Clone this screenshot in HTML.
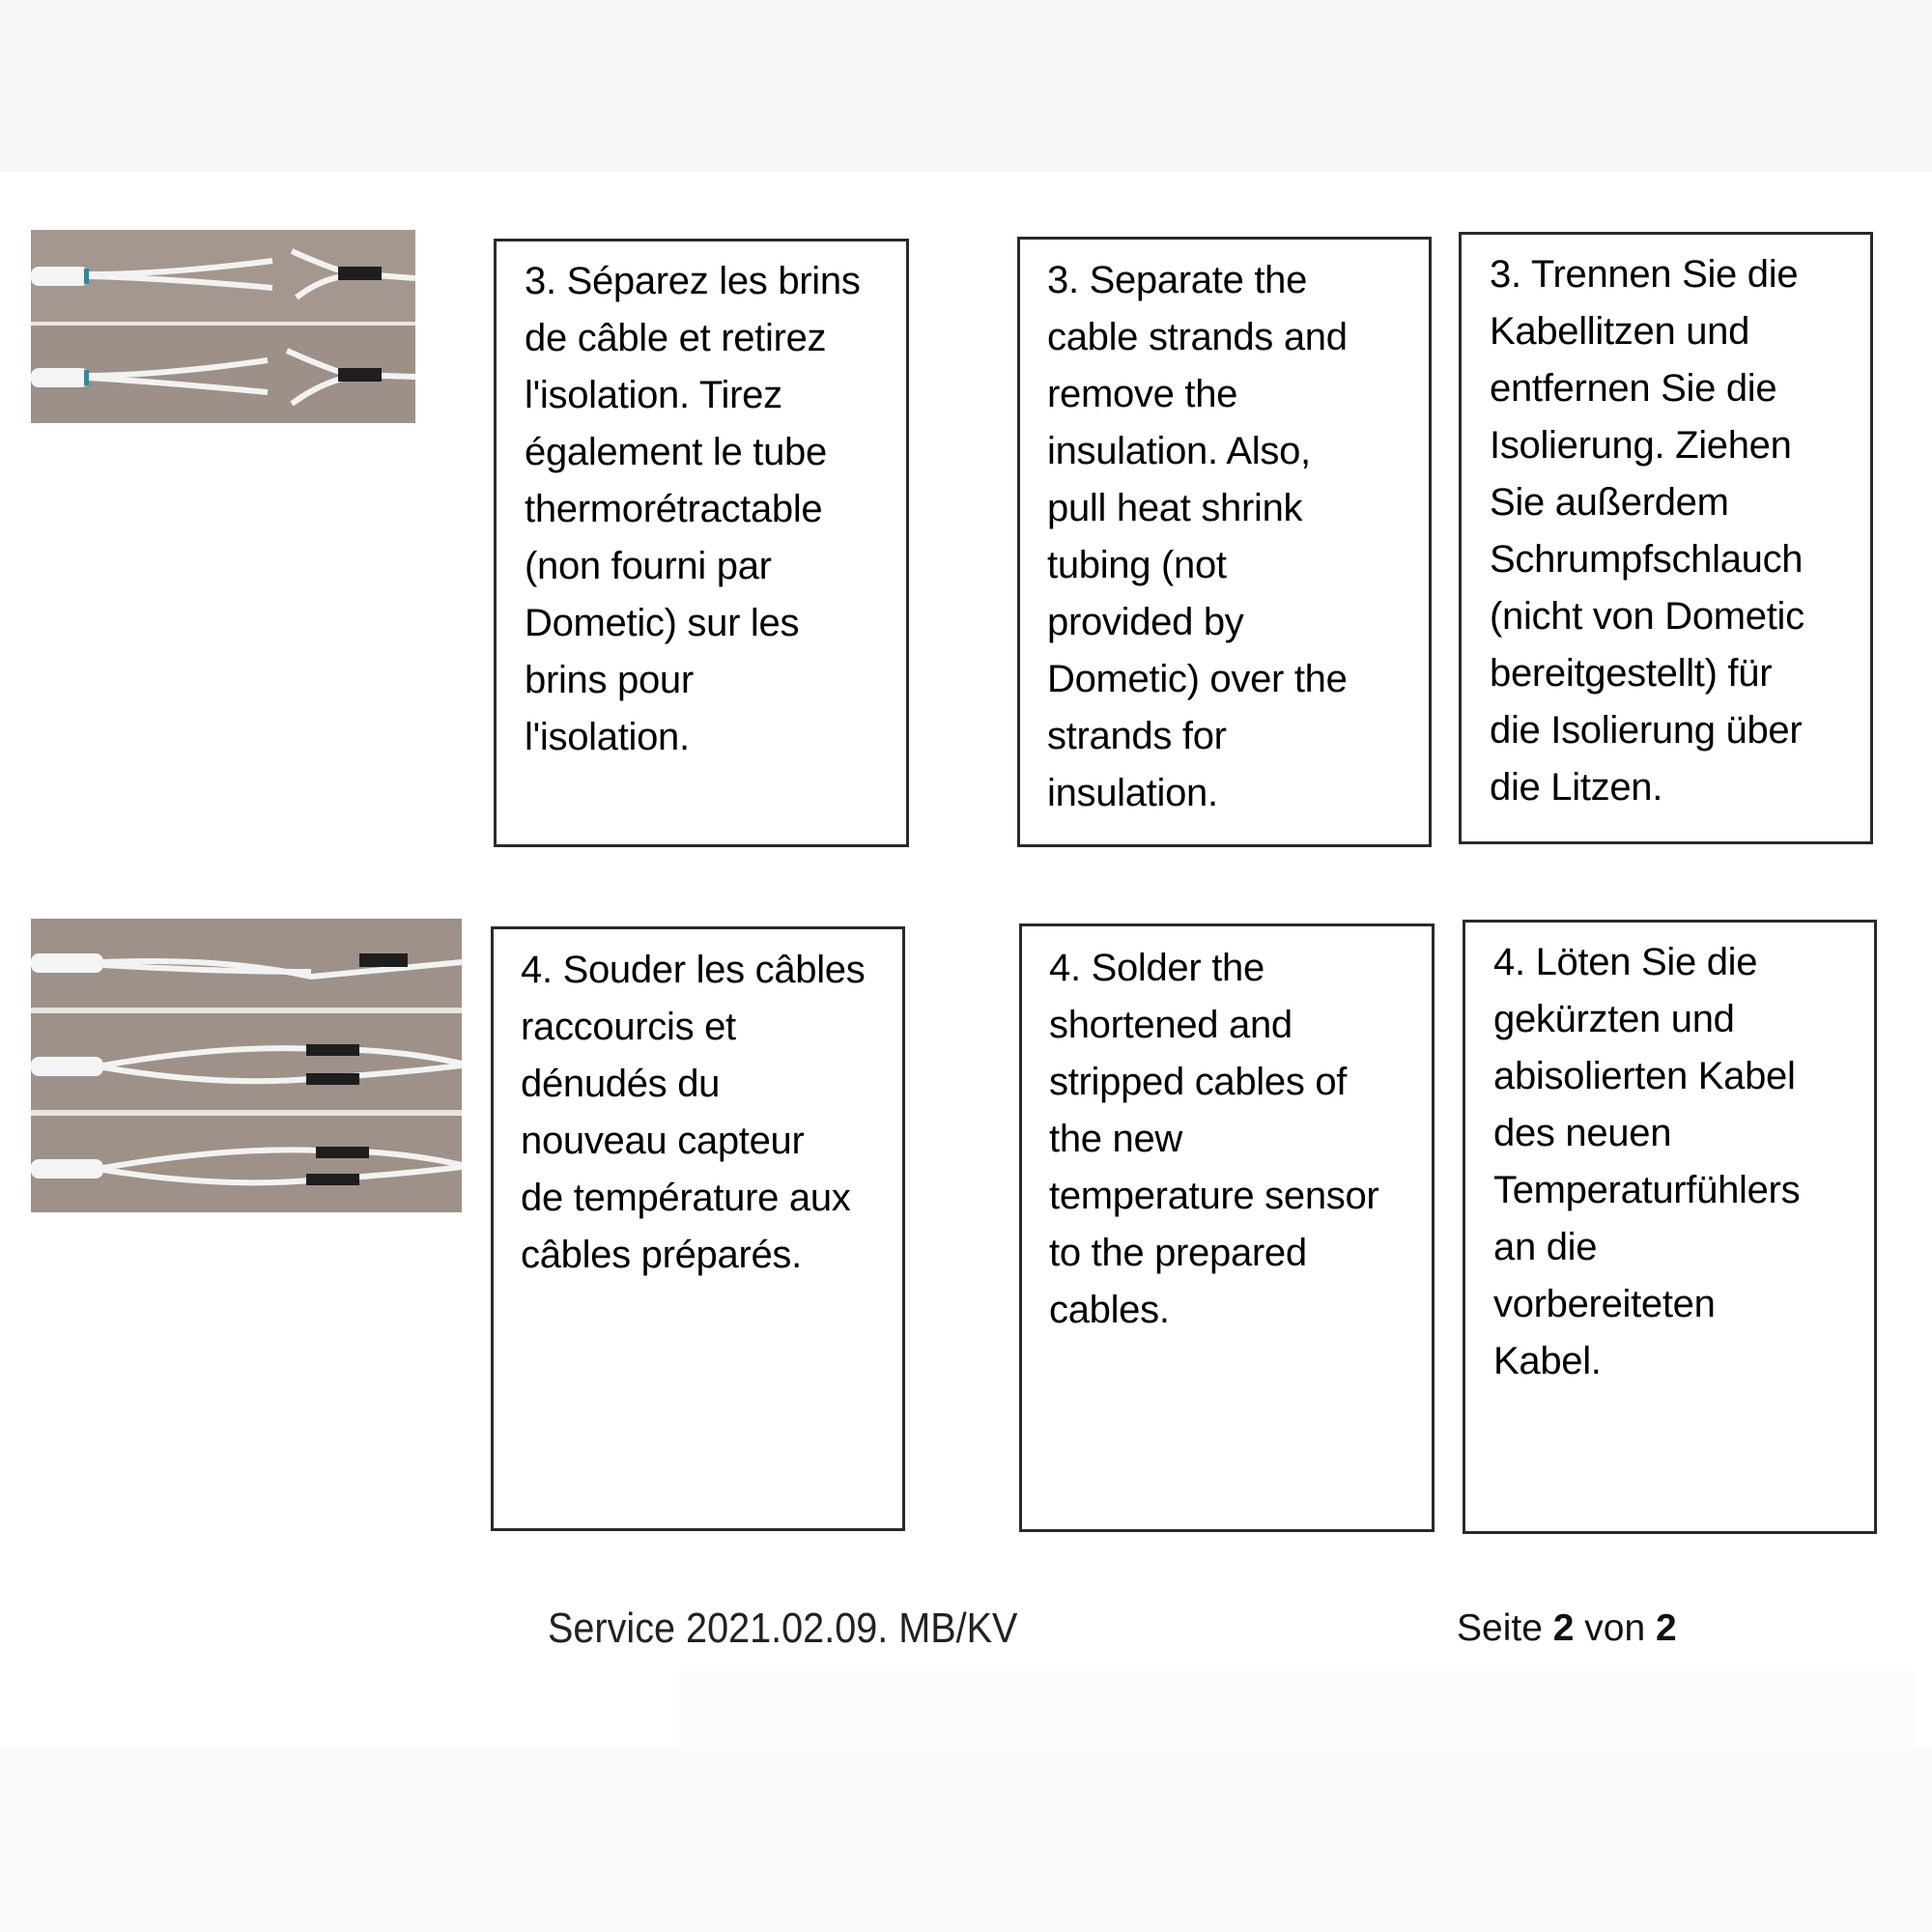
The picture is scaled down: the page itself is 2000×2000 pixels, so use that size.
<!DOCTYPE html>
<html><head><meta charset="utf-8"><style>
body{margin:0;width:2000px;height:2000px;background:#fff;position:relative;overflow:hidden;font-family:"Liberation Sans",sans-serif;color:#000}
.box{position:absolute;border:3px solid #2a2a2a;box-sizing:border-box;background:#fff}
.t{position:absolute;font-size:40px;line-height:59px;white-space:nowrap;color:#000;letter-spacing:-0.3px}
.ph{position:absolute}
</style></head><body>
<div style="position:absolute;left:0;top:0;width:2000px;height:178px;background:#f8f8f8"></div>
<div style="position:absolute;left:0;top:1810px;width:2000px;height:190px;background:#fafafa"></div>
<div style="position:absolute;left:703px;top:1730px;width:1280px;height:78px;background:#fbfbfb"></div>

<svg class="ph" style="left:32px;top:238px" width="398" height="200" viewBox="0 0 398 200">
<rect width="398" height="200" fill="#9c9088"/>
<rect y="0" width="398" height="95" fill="#a39790"/>
<rect y="95" width="398" height="4" fill="#e8e4e0"/>
<g stroke="#f2f2f2" stroke-width="6" fill="none">
<path d="M0 47 L45 47"/><path d="M60 46 Q140 46 250 32"/><path d="M60 48 Q140 50 250 60"/>
<path d="M270 22 Q310 40 330 45 L398 50"/><path d="M275 70 Q300 50 330 47"/>
<path d="M0 152 L45 152"/><path d="M60 151 Q140 150 245 135"/><path d="M60 153 Q140 158 245 168"/>
<path d="M265 125 Q310 145 330 150 L398 152"/><path d="M270 180 Q300 158 330 152"/>
</g>
<rect x="0" y="38" width="60" height="20" rx="8" fill="#f4f4f4"/>
<rect x="0" y="143" width="60" height="20" rx="8" fill="#f4f4f4"/>
<rect x="55" y="40" width="5" height="16" fill="#2a8aa0"/><rect x="55" y="145" width="5" height="16" fill="#2a8aa0"/>
<rect x="318" y="38" width="45" height="14" fill="#1e1e1e"/><rect x="318" y="143" width="45" height="14" fill="#1e1e1e"/>
</svg>

<svg class="ph" style="left:32px;top:951px" width="446" height="304" viewBox="0 0 446 304">
<rect width="446" height="304" fill="#9d918a"/>
<rect y="92" width="446" height="6" fill="#e8e4e0"/><rect y="198" width="446" height="6" fill="#e8e4e0"/>
<g stroke="#f2f2f2" stroke-width="6" fill="none">
<path d="M0 45 L75 45 Q200 40 290 60 L446 45"/><path d="M75 48 Q200 55 290 55"/>
<path d="M0 152 L75 152 Q200 130 300 135 Q380 135 446 150"/><path d="M75 154 Q200 175 300 165 Q380 160 446 152"/>
<path d="M0 258 L75 258 Q200 236 300 240 Q380 240 446 255"/><path d="M75 260 Q200 280 300 270 Q380 265 446 257"/>
</g>
<rect x="0" y="36" width="75" height="20" rx="8" fill="#f4f4f4"/><rect x="0" y="143" width="75" height="20" rx="8" fill="#f4f4f4"/><rect x="0" y="249" width="75" height="20" rx="8" fill="#f4f4f4"/>
<rect x="340" y="36" width="50" height="14" fill="#1e1e1e"/>
<rect x="285" y="130" width="55" height="12" fill="#1e1e1e"/><rect x="285" y="160" width="55" height="12" fill="#1e1e1e"/>
<rect x="295" y="236" width="55" height="12" fill="#1e1e1e"/><rect x="285" y="264" width="55" height="12" fill="#1e1e1e"/>
</svg>

<div class="box" style="left:511px;top:247px;width:430px;height:630px"></div>
<div class="t" style="left:543px;top:262px">3. Séparez les brins<br>de câble et retirez<br>l'isolation. Tirez<br>également le tube<br>thermorétractable<br>(non fourni par<br>Dometic) sur les<br>brins pour<br>l'isolation.</div>

<div class="box" style="left:1053px;top:245px;width:429px;height:632px"></div>
<div class="t" style="left:1084px;top:261px">3. Separate the<br>cable strands and<br>remove the<br>insulation. Also,<br>pull heat shrink<br>tubing (not<br>provided by<br>Dometic) over the<br>strands for<br>insulation.</div>

<div class="box" style="left:1510px;top:240px;width:429px;height:634px"></div>
<div class="t" style="left:1542px;top:255px">3. Trennen Sie die<br>Kabellitzen und<br>entfernen Sie die<br>Isolierung. Ziehen<br>Sie außerdem<br>Schrumpfschlauch<br>(nicht von Dometic<br>bereitgestellt) für<br>die Isolierung über<br>die Litzen.</div>

<div class="box" style="left:508px;top:959px;width:429px;height:626px"></div>
<div class="t" style="left:539px;top:975px">4. Souder les câbles<br>raccourcis et<br>dénudés du<br>nouveau capteur<br>de température aux<br>câbles préparés.</div>

<div class="box" style="left:1055px;top:956px;width:430px;height:630px"></div>
<div class="t" style="left:1086px;top:973px">4. Solder the<br>shortened and<br>stripped cables of<br>the new<br>temperature sensor<br>to the prepared<br>cables.</div>

<div class="box" style="left:1514px;top:952px;width:429px;height:636px"></div>
<div class="t" style="left:1546px;top:967px">4. Löten Sie die<br>gekürzten und<br>abisolierten Kabel<br>des neuen<br>Temperaturfühlers<br>an die<br>vorbereiteten<br>Kabel.</div>

<div style="position:absolute;left:567px;top:1658px;font-size:44px;line-height:56px;white-space:nowrap;transform:scaleX(0.9);transform-origin:left;color:#222">Service 2021.02.09. MB/KV</div>
<div style="position:absolute;left:1508px;top:1660px;font-size:39px;line-height:52px;white-space:nowrap;color:#111">Seite <b>2</b> von <b>2</b></div>
</body></html>
